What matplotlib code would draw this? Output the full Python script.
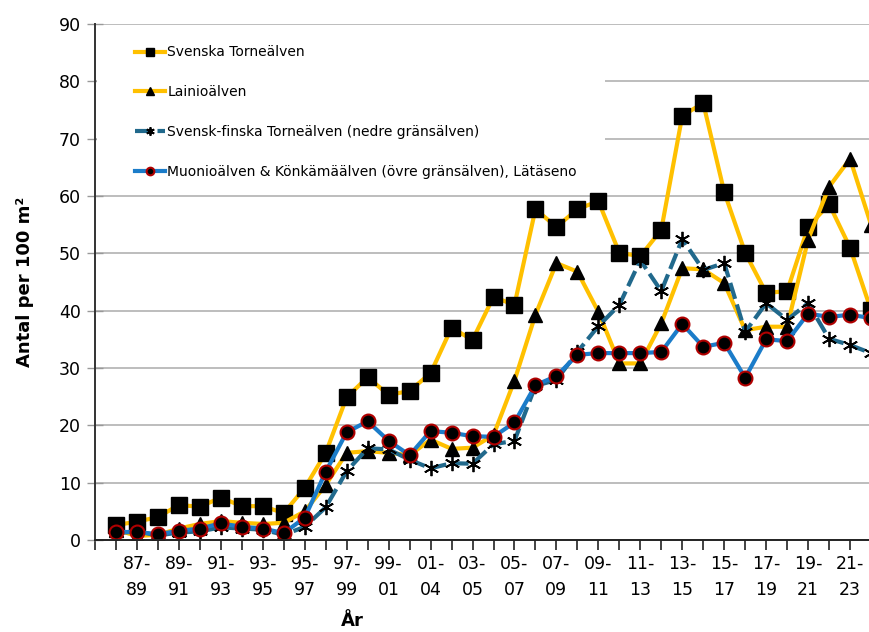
import numpy as np
import matplotlib
matplotlib.use("Agg")
import matplotlib.pyplot as plt
from matplotlib.patches import Rectangle

# values (Antal per 100 m2), one value per 3-year period
torne = [2.6, 3.2, 4.0, 6.1, 5.8, 7.4, 5.9, 5.9, 4.7, 9.1, 15.2, 24.9, 28.4, 25.3, 26.0, 29.1,
         37.0, 34.9, 42.4, 41.0, 57.7, 54.6, 57.7, 59.1, 50.1, 49.5, 54.1, 74.0, 76.2, 60.7,
         50.1, 43.1, 43.4, 54.6, 58.6, 51.0, 40.1]
lainio = [1.8, 0.7, 0.9, 2.0, 2.8, 3.3, 3.0, 2.8, 3.0, 5.0, 9.6, 15.2, 15.5, 15.2, 14.8, 17.5,
          15.9, 16.1, 18.3, 27.8, 39.3, 48.3, 46.8, 39.8, 30.8, 30.8, 37.8, 47.4, 47.2, 44.8,
          36.6, 37.2, 37.2, 52.4, 61.6, 66.5, 55.0]
finska = [1.2, 1.5, 0.8, 1.3, 1.5, 2.2, 2.0, 1.8, 0.9, 2.3, 5.7, 12.0, 16.0, 15.8, 14.0, 12.5,
          13.4, 13.3, 16.7, 17.3, 26.9, 27.9, 32.8, 37.3, 41.0, 48.8, 43.4, 52.5, 47.1, 48.3,
          36.3, 41.3, 38.4, 41.3, 35.1, 34.0, 32.6]
muonio = [1.4, 1.4, 1.0, 1.6, 2.0, 2.9, 2.3, 2.0, 1.2, 3.9, 11.9, 18.8, 20.7, 17.3, 14.8, 19.0,
          18.7, 18.1, 18.0, 20.5, 27.0, 28.6, 32.3, 32.6, 32.6, 32.6, 32.8, 37.7, 33.7, 34.4,
          28.3, 35.0, 34.7, 39.5, 38.9, 39.3, 38.7]

# only every other period is labelled
x_labels = ["87-\n89", "89-\n91", "91-\n93", "93-\n95", "95-\n97", "97-\n99", "99-\n01",
            "01-\n04", "03-\n05", "05-\n07", "07-\n09", "09-\n11", "11-\n13", "13-\n15",
            "15-\n17", "17-\n19", "19-\n21", "21-\n23"]

series_names = ["Svenska Torneälven", "Lainioälven",
                "Svensk-finska Torneälven (nedre gränsälven)",
                "Muonioälven & Könkämäälven (övre gränsälven), Lätäseno"]

x = np.arange(1, len(torne) + 1)

fig = plt.figure(figsize=(8.69, 6.32), dpi=100)
# axes runs past the right edge, like the cropped original
ax = fig.add_axes([95 / 869, 92 / 632, 797 / 869, 516 / 632])

YELLOW = "#FFC000"
TEAL = "#21698C"
BLUE = "#1B7CC9"

ax.plot(x, torne, color=YELLOW, lw=3, marker="s", ms=11, mfc="black", mec="black",
        label=series_names[0])
ax.plot(x, lainio, color=YELLOW, lw=3, marker="^", ms=10, mfc="black", mec="black",
        label=series_names[1])
ax.plot(x, finska, color=TEAL, lw=3, dashes=(4, 1.4), marker=(6, 2, 0), ms=11,
        mfc="black", mec="black", mew=1.3, label=series_names[2])
ax.plot(x, muonio, color=BLUE, lw=3, marker="o", ms=10, mfc="black", mec="#B00000",
        mew=1.5, label=series_names[3])

ax.set_xlim(0, 38)
ax.set_ylim(0, 90)
ax.set_yticks(np.arange(0, 91, 10))
ax.set_xticks(np.arange(2, 37, 2), labels=x_labels)
ax.set_xticks(np.arange(0, 38), minor=True)
ax.tick_params(axis="x", which="both", direction="out", length=7, width=1.2,
               color="#222222")
ax.tick_params(axis="x", which="major", pad=4, labelsize=12.5)
for t in ax.get_xticklabels():
    t.set_linespacing(1.55)
ax.tick_params(axis="y", direction="inout", length=12, width=1, color="#999999",
               labelsize=12.5, pad=4)

ax.grid(axis="y", color="#B8B8B8", lw=1.3)
ax.set_axisbelow(True)
for s in ["top", "right"]:
    ax.spines[s].set_visible(False)
ax.spines["left"].set_color("#333333")
ax.spines["left"].set_linewidth(1.4)
ax.spines["bottom"].set_color("#222222")
ax.spines["bottom"].set_linewidth(1.4)

ax.set_ylabel("Antal per 100 m²", fontsize=13, fontweight="bold", labelpad=18)
fig.text(352 / 869, 20 / 632, "År", fontsize=13, fontweight="bold", ha="center", va="top")

# white legend area that hides the gridlines behind it
ax.add_patch(Rectangle((0.002, 0.675), 0.638, 0.313, transform=ax.transAxes,
                       facecolor="white", edgecolor="none", zorder=1))
leg = ax.legend(loc="upper left", bbox_to_anchor=(0.036, 0.98), fontsize=10,
                handlelength=2.2, handletextpad=0.15, labelspacing=1.86, markerscale=0.55,
                frameon=False, borderpad=0.3)

fig.savefig("out.png", dpi=100)
